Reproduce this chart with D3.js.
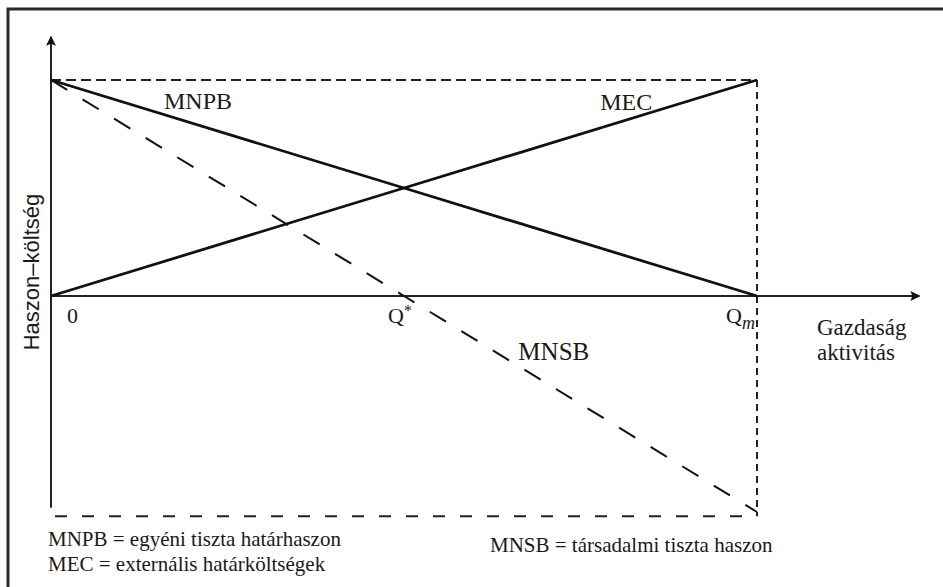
<!DOCTYPE html>
<html>
<head>
<meta charset="utf-8">
<script src="https://cdn.jsdelivr.net/npm/d3@7"></script>
<style>
  body { margin: 0; background: #fff; }
  svg { display: block; }
</style>
</head>
<body>
<div id="chart"></div>
<script>
// economic activity (0, Q*, Qm) and the three marginal curves
const activity = [0, 50, 100];
const mnpb = [100, 50, 0];
const mec = [0, 50, 100];
const mnsb = [100, 0, -100];
const tickLabels = ["0", "Q", "Q"];
const tickSubs = ["", "*", "m"];
const curveLabels = ["MNPB", "MEC", "MNSB"];
const legendLines = [
  "MNPB = egyéni tiszta határhaszon",
  "MEC = externális határköltségek",
  "MNSB = társadalmi tiszta haszon"
];
const boxTop = 100, boxBottom = -102;
const axisTopY = 120, axisBottomY = -98, axisRightX = 123;

const width = 943, height = 587;
const serif = "'Liberation Serif', 'Times New Roman', 'DejaVu Serif', serif";

const svg = d3.select("#chart")
  .append("svg")
  .attr("width", width)
  .attr("height", height);

const x = d3.scaleLinear().domain([0, 100]).range([51, 757]);
const y = d3.scaleLinear().domain([-100, 100]).range([512, 80]);

function label(px, py, size, txt) {
  return svg.append("text")
    .attr("x", px).attr("y", py)
    .style("font-family", serif)
    .style("font-size", size + "px")
    .style("fill", "#1a1a1a")
    .text(txt);
}

// scan frame (top and left edges only)
svg.append("path")
  .attr("d", `M8,${height} L8,9 L${width},9`)
  .attr("fill", "none")
  .attr("stroke", "#2a2a2a")
  .attr("stroke-width", 3);

svg.append("defs").append("marker")
  .attr("id", "arrow")
  .attr("viewBox", "0 0 10 10")
  .attr("refX", 9).attr("refY", 5)
  .attr("markerWidth", 10).attr("markerHeight", 10)
  .attr("markerUnits", "userSpaceOnUse")
  .attr("orient", "auto")
  .append("path")
  .attr("d", "M0,0 L10,5 L0,10 L2,5 Z")
  .attr("fill", "#111");

// axes
svg.append("line")
  .attr("x1", x(0)).attr("y1", y(axisBottomY))
  .attr("x2", x(0)).attr("y2", y(axisTopY))
  .attr("stroke", "#222").attr("stroke-width", 2)
  .attr("marker-end", "url(#arrow)");

svg.append("line")
  .attr("x1", x(0)).attr("y1", y(0))
  .attr("x2", x(axisRightX)).attr("y2", y(0))
  .attr("stroke", "#222").attr("stroke-width", 2)
  .attr("marker-end", "url(#arrow)");

// dashed box
svg.append("line")
  .attr("x1", x(0)).attr("y1", y(boxTop))
  .attr("x2", x(100)).attr("y2", y(boxTop))
  .attr("stroke", "#222").attr("stroke-width", 2)
  .attr("stroke-dasharray", "10,5");

svg.append("line")
  .attr("x1", x(100)).attr("y1", y(boxTop))
  .attr("x2", x(100)).attr("y2", y(boxBottom))
  .attr("stroke", "#222").attr("stroke-width", 2)
  .attr("stroke-dasharray", "7,5");

svg.append("line")
  .attr("x1", x(0) + 4).attr("y1", y(boxBottom))
  .attr("x2", x(100)).attr("y2", y(boxBottom))
  .attr("stroke", "#222").attr("stroke-width", 2)
  .attr("stroke-dasharray", "12,15");

// curves
const line = d3.line()
  .x(d => x(d[0]))
  .y(d => y(d[1]));

svg.append("path")
  .datum(d3.zip(activity, mnpb))
  .attr("d", line)
  .attr("fill", "none").attr("stroke", "#111").attr("stroke-width", 2.8);

svg.append("path")
  .datum(d3.zip(activity, mec))
  .attr("d", line)
  .attr("fill", "none").attr("stroke", "#111").attr("stroke-width", 2.8);

svg.append("path")
  .datum(d3.zip(activity, mnsb))
  .attr("d", line)
  .attr("fill", "none").attr("stroke", "#111").attr("stroke-width", 2)
  .attr("stroke-dasharray", "19,18");

// curve labels
label(x(16), y(100) + 29, 24, curveLabels[0]);
label(x(77.8), y(100) + 30, 24, curveLabels[1]);
label(x(66.2), y(0) + 64, 25, curveLabels[2]);

// tick labels on the activity axis
const ticks = svg.selectAll(".tick")
  .data(activity)
  .join("text")
  .attr("class", "tick")
  .attr("x", (d, i) => i === 0 ? x(d) + 16 : i === 1 ? x(d) - 16 : x(d) - 31)
  .attr("y", y(0) + 27)
  .style("font-family", serif)
  .style("fill", "#1a1a1a")
  .style("font-size", "22px");
ticks.append("tspan").text((d, i) => tickLabels[i]);
ticks.append("tspan")
  .attr("dy", (d, i) => i === 1 ? -7 : 6)
  .style("font-size", (d, i) => i === 1 ? "16px" : "18px")
  .style("font-style", (d, i) => i === 2 ? "italic" : "normal")
  .text((d, i) => tickSubs[i]);

// axis titles
label(817, 335, 23, "Gazdaság");
label(817, 360, 23, "aktivitás");

svg.append("text")
  .attr("transform", "translate(39,272) rotate(-90)")
  .attr("text-anchor", "middle")
  .style("font-family", "'Liberation Sans Narrow', 'Arial Narrow', 'Liberation Sans', sans-serif")
  .style("font-stretch", "condensed")
  .style("font-size", "22px")
  .style("fill", "#1a1a1a")
  .text("Haszon–költség");

// legend
label(48, 546, 21, legendLines[0]);
label(48, 571, 21, legendLines[1]);
label(490, 552, 21, legendLines[2]);
</script>
</body>
</html>
